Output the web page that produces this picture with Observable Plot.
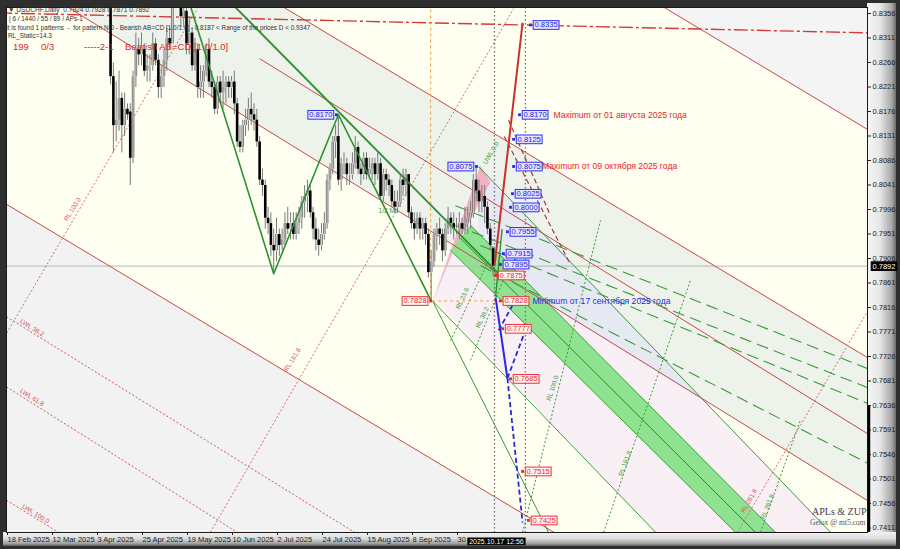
<!DOCTYPE html>
<html><head><meta charset="utf-8">
<script src="https://cdn.jsdelivr.net/npm/d3@7"></script>
<script src="https://cdn.jsdelivr.net/npm/@observablehq/plot@0.6"></script>
<style>
body{margin:0;background:#fff;}
#wrap{position:relative;width:900px;height:549px;overflow:hidden;background:#2e2e2e;font-family:"Liberation Sans",Arial,sans-serif;}
#raxis{position:absolute;left:867px;top:3px;width:29px;height:532px;background:linear-gradient(to right,#f7f7f7 0%,#e6e6e6 45%,#a8a8a8 85%,#6a6a6a 100%);}
#baxis{position:absolute;left:3px;top:532px;width:893px;height:14px;background:linear-gradient(to bottom,#f2f2f2 0%,#dedede 45%,#9a9a9a 85%,#5a5a5a 100%);}
#chart{position:absolute;left:0;top:0;}
.h{position:absolute;white-space:nowrap;color:#333;font-size:6.4px;line-height:8px;}
.r{color:#e0282a;font-size:9.5px;line-height:11px;}
.wm{position:absolute;white-space:nowrap;font-family:"Liberation Serif",serif;}
</style></head>
<body>
<div id="wrap">
  <div id="raxis"></div>
  <div id="baxis"></div>
  <div id="chart"></div>
  <div class="h" style="left:8px;top:6px;font-size:6.6px">▼ USDCHF,Daily&nbsp; 0.7924 0.7928 0.7871 0.7892</div>
  <div class="h" style="left:9px;top:15px;">| 6 / 1440 / 55 / 89 / APs-1</div>
  <div class="h" style="left:6px;top:24px;">It is found 1 patterns&nbsp; -&nbsp; for pattern N 0 - Bearish AB=CD [1.0/1.0] - 0.8187 &lt; Range of the prices D &lt; 0.9347</div>
  <div class="h" style="left:8px;top:32px;">RL_Static=14.3</div>
  <div class="h r" style="left:13px;top:41px;">199</div>
  <div class="h r" style="left:41px;top:41px;">0/3</div>
  <div class="h r" style="left:84px;top:41px;color:#b02a2a;">-----2-1</div>
  <div class="h r" style="left:125px;top:41px;">Bearish AB=CD [1.0/1.0]</div>
  <div class="wm" style="left:812px;top:506px;font-size:10px;color:#3c3c58;">APLs &amp; ZUP</div>
  <div class="wm" style="left:810px;top:518px;font-size:7.5px;color:#555;">Gelox @ mt5.com</div>
</div>
<script>
// ---------- candles (trading-day index from 18 Feb 2025) ----------
const firstBar = 37;
const open = [
0.8600,0.8240,0.8150,0.8160,0.8200,0.8150,0.8180,0.8175,0.8090,0.8240,
0.8290,0.8280,0.8290,0.8250,0.8260,0.8260,0.8300,0.8270,0.8220,0.8240,
0.8270,0.8310,0.8300,0.8440,0.8400,0.8390,0.8350,0.8360,0.8300,0.8320,
0.8260,0.8290,0.8220,0.8230,0.8250,0.8290,0.8230,0.8220,0.8180,0.8230,
0.8210,0.8220,0.8230,0.8220,0.8230,0.8190,0.8120,0.8110,0.8150,0.8160,
0.8180,0.8170,0.8160,0.8120,0.8050,0.8040,0.7980,0.7970,0.7930,0.7920,
0.7950,0.7930,0.7940,0.7970,0.7960,0.7970,0.7950,0.7970,0.7980,0.8010,
0.8020,0.8030,0.7990,0.7960,0.7940,0.7930,0.7950,0.7970,0.8050,0.8070,
0.8120,0.8130,0.8050,0.8080,0.8080,0.8060,0.8060,0.8080,0.8110,0.8070,
0.8060,0.8090,0.8060,0.8070,0.8080,0.8060,0.8080,0.8020,0.8060,0.8050,
0.8040,0.8010,0.8000,0.8010,0.8050,0.8040,0.8060,0.7990,0.7970,0.7960,
0.7980,0.7960,0.7970,0.7950,0.7880,0.7900,0.7950,0.7960,0.7950,0.7920,
0.7960,0.7980,0.7970,0.7960,0.7960,0.7970,0.7960,0.7970,0.7980,0.7990,
0.8050,0.8030,0.8010,0.8020,0.8000,0.7960,0.7924];
const high = [
0.8615,0.8265,0.8230,0.8250,0.8210,0.8210,0.8190,0.8190,0.8250,0.8320,
0.8310,0.8320,0.8300,0.8280,0.8280,0.8320,0.8310,0.8280,0.8260,0.8290,
0.8330,0.8330,0.8476,0.8460,0.8440,0.8420,0.8400,0.8370,0.8350,0.8330,
0.8310,0.8300,0.8260,0.8260,0.8300,0.8310,0.8250,0.8230,0.8240,0.8240,
0.8250,0.8240,0.8240,0.8240,0.8250,0.8200,0.8150,0.8160,0.8180,0.8200,
0.8210,0.8190,0.8180,0.8130,0.8070,0.8050,0.8000,0.7990,0.7960,0.7980,
0.7960,0.7960,0.7990,0.8000,0.7990,0.7990,0.7990,0.8000,0.8020,0.8040,
0.8050,0.8040,0.8000,0.7980,0.7960,0.7970,0.7990,0.8060,0.8080,0.8130,
0.8150,0.8170,0.8090,0.8100,0.8090,0.8080,0.8100,0.8130,0.8120,0.8080,
0.8100,0.8100,0.8090,0.8090,0.8090,0.8100,0.8090,0.8070,0.8070,0.8060,
0.8050,0.8030,0.8030,0.8060,0.8070,0.8070,0.8060,0.8000,0.7990,0.7990,
0.7990,0.7980,0.7980,0.7960,0.7920,0.7960,0.7970,0.7980,0.7960,0.7970,
0.8000,0.7990,0.7990,0.7980,0.7990,0.7980,0.8000,0.8000,0.8010,0.8060,
0.8075,0.8050,0.8040,0.8040,0.8010,0.7970,0.7928];
const low = [
0.8225,0.8100,0.8120,0.8140,0.8100,0.8130,0.8160,0.8040,0.8080,0.8220,
0.8260,0.8260,0.8240,0.8230,0.8230,0.8250,0.8260,0.8200,0.8200,0.8220,
0.8250,0.8290,0.8300,0.8370,0.8370,0.8330,0.8330,0.8280,0.8280,0.8250,
0.8250,0.8200,0.8200,0.8200,0.8240,0.8220,0.8200,0.8170,0.8170,0.8190,
0.8180,0.8190,0.8200,0.8200,0.8170,0.8110,0.8100,0.8100,0.8130,0.8140,
0.8150,0.8140,0.8110,0.8040,0.8020,0.7960,0.7950,0.7910,0.7878,0.7900,
0.7910,0.7920,0.7930,0.7950,0.7940,0.7940,0.7940,0.7950,0.7960,0.7980,
0.7990,0.7980,0.7940,0.7920,0.7910,0.7920,0.7940,0.7960,0.8030,0.8060,
0.8090,0.8040,0.8030,0.8060,0.8040,0.8040,0.8050,0.8070,0.8060,0.8040,
0.8050,0.8050,0.8050,0.8050,0.8040,0.8050,0.8010,0.8010,0.8030,0.8020,
0.8000,0.7990,0.7990,0.8000,0.8020,0.8020,0.7980,0.7960,0.7940,0.7950,
0.7940,0.7940,0.7930,0.7870,0.7828,0.7890,0.7920,0.7930,0.7900,0.7910,
0.7950,0.7950,0.7940,0.7950,0.7940,0.7950,0.7950,0.7950,0.7960,0.7980,
0.8010,0.7990,0.7990,0.7970,0.7950,0.7920,0.7872];
const close = [
0.8240,0.8150,0.8160,0.8200,0.8150,0.8180,0.8170,0.8090,0.8240,0.8290,
0.8280,0.8290,0.8250,0.8260,0.8260,0.8300,0.8270,0.8220,0.8240,0.8270,
0.8310,0.8300,0.8440,0.8400,0.8390,0.8350,0.8360,0.8300,0.8320,0.8260,
0.8290,0.8220,0.8230,0.8250,0.8290,0.8230,0.8220,0.8180,0.8230,0.8210,
0.8220,0.8230,0.8220,0.8230,0.8190,0.8120,0.8110,0.8150,0.8160,0.8180,
0.8170,0.8160,0.8120,0.8050,0.8040,0.7980,0.7970,0.7930,0.7920,0.7950,
0.7930,0.7940,0.7970,0.7960,0.7970,0.7950,0.7970,0.7980,0.8010,0.8020,
0.8030,0.7990,0.7960,0.7940,0.7930,0.7950,0.7970,0.8050,0.8070,0.8120,
0.8130,0.8050,0.8080,0.8080,0.8060,0.8060,0.8080,0.8110,0.8070,0.8060,
0.8090,0.8060,0.8070,0.8080,0.8060,0.8080,0.8020,0.8060,0.8050,0.8040,
0.8010,0.8000,0.8010,0.8050,0.8040,0.8060,0.7990,0.7970,0.7960,0.7980,
0.7960,0.7970,0.7950,0.7880,0.7900,0.7950,0.7960,0.7950,0.7920,0.7960,
0.7980,0.7970,0.7960,0.7960,0.7970,0.7960,0.7970,0.7980,0.7990,0.8050,
0.8030,0.8010,0.8020,0.8000,0.7960,0.7930,0.7892];

// ---------- axes ----------
const xTickIdx = [0,16,32,48,64,80,96,112,128,144,160];
const xTickLabels = ["18 Feb 2025","12 Mar 2025","3 Apr 2025","25 Apr 2025","19 May 2025","10 Jun 2025","2 Jul 2025","24 Jul 2025","15 Aug 2025","8 Sep 2025","30"];
const yTicks = [0.8356,0.8311,0.8266,0.8221,0.8176,0.8131,0.8086,0.8041,0.7996,0.7951,0.7906,0.7861,0.7816,0.7771,0.7726,0.7681,0.7636,0.7591,0.7546,0.7501,0.7456,0.7411];
const lastPrice = 0.7892;
const lastBar = 174.2;
const lastTime = "2025.10.17 12:56";

// ---------- drawn objects, [bar index, price] ----------
const zoneAboveTop = [[200,0.8472],[310,0.8131],[310,0.8500],[200,0.8500]];
const zoneChannel = [[-5,0.8689],[310,0.7712],[310,0.7449],[-5,0.8453]];
const zoneLowLeft = [[-5,0.8021],[310,0.7046],[310,0.7000],[-5,0.7000]];
const zonePink = [[151.5,0.7834],[167.8,0.8077],[293,0.7403],[230.8,0.7403]];
const zoneBlue = [[167.8,0.8077],[250.3,0.7636],[167.8,0.7902]];
const greenBand = [[165,0.7967],[273.4,0.7403],[259.2,0.7403],[157.9,0.7921]];
const greenBandMid = [[161.4,0.7943,266.3,0.7403]];
const pinkPattern = [[151.8,0.7829],[168.5,0.8077],[172.1,0.8046],[158.6,0.7917]];

const redSolid = [[200,0.8472,310,0.8131],[90,0.8394,310,0.7712],[90,0.8273,310,0.7572],[-5,0.8453,310,0.7449],[-5,0.8021,310,0.7046]];
const redDashTop = [[-3,0.8357,310,0.8320]];
const redDottedLow = [[0,0.7799,130,0.7383],[0,0.7670,90,0.7377],[0,0.7462,25,0.7382]];
const redDottedSteep = [[-2.1,0.7750,67.9,0.8365],[72.5,0.7403,180.3,0.8365],[259.9,0.7403,310,0.7843]];
const greenDottedSteep = [[183.5,0.7403,211.2,0.7976],[212.3,0.7403,243.2,0.7866],[268.1,0.7403,282.3,0.7609],[157.9,0.7755,171.4,0.7902],[165,0.7719,179.2,0.7899]];
const greenThin = [[151.5,0.7828,192.7,0.7403],[151.5,0.7828,230.8,0.7403],[167.8,0.8075,293,0.7403]];
const greenDashed = [[159.6,0.8003,306.1,0.7704],[159.6,0.7967,306.1,0.7669],[168.5,0.7930,306.1,0.7640],[168.5,0.7893,306.1,0.7530]];
const greenZig = [[59,0.8476],[95,0.7878],[118,0.8170],[151,0.7828]];
const greenThick = [[80.7,0.8371,174.6,0.7880]];
const greenUp = [[173.9,0.7836,176.2,0.7960]];
const redThick = [[173.5,0.7892,183.5,0.8339]];
const brownDashed = [[178.5,0.8160,193.4,0.7985],[177,0.8130,200,0.7900]];
const blueSolid = [[173.9,0.7834,178.1,0.7686]];
const blueDashed = [[178.1,0.7686,183.5,0.7421],[175,0.7774,179.9,0.7820],[178.1,0.7686,184.5,0.7774]];
const grayVert = [173.5,184.5];
const orangeVert = [[150.8,0.7828,0.8370]];
const orangeHoriz = [[151.5,174,0.7828]];

const blueLabels = [[186.3,0.8335],[182.4,0.8170],[180.3,0.8125],[180.3,0.8075],[179.9,0.8025],[179.2,0.8000],[178.1,0.7955],[176.7,0.7915],[175.6,0.7895]];
const redLabels = [[173.9,0.7875],[175.6,0.7828],[176.4,0.7777],[179.2,0.7685],[183.5,0.7515],[185.6,0.7425]];
const blueLabelsLeft = [[167.1,0.8075],[117.3,0.8170]];
const redLabelsLeft = [[150.8,0.7828]];
const notes = [
  {x:194.5, y:0.8170, t:"Maximum от 01 августа 2025 года", c:"#e8262a"},
  {x:190.4, y:0.8075, t:"Maximum от 09 октября 2025 года", c:"#e8262a"},
  {x:187.0, y:0.7828, t:"Minimum от 17 сентября 2025 года", c:"#2a2ae8"}
];
const redTags = [
  {x:5, y:0.7792, t:"LWL 38.2", r:32},{x:5, y:0.7664, t:"LWL 61.8", r:32},{x:5.7, y:0.7452, t:"LWL 100.0", r:32},
  {x:21, y:0.7976, t:"RL 100.0", r:-58},{x:99.2, y:0.7700, t:"RL 161.8", r:-58},{x:261.7, y:0.7440, t:"RL 261.8", r:-60}
];
const greenTags = [
  {x:192.7, y:0.7645, t:"RL 100.0", r:-72},{x:218.3, y:0.7507, t:"RL 161.8", r:-70},{x:268.8, y:0.7428, t:"RL 261.8", r:-68},
  {x:160.4, y:0.7814, t:"RL 23.6", r:-65},{x:167.5, y:0.7779, t:"RL 38.2", r:-65},{x:170, y:0.8080, t:"UWL 0.0", r:-60},
  {x:132.3, y:0.7994, t:"1/2 ML", r:0}
];

const bars = close.map((c,k)=>({i:firstBar+k, o:open[k], h:high[k], l:low[k], c}));
const P = d=>d[0], Q = d=>d[1];
const seg = (data, o) => Plot.link(data, {x1:d=>d[0], y1:d=>d[1], x2:d=>d[2], y2:d=>d[3], clip:true, ...o});
const poly = (data, fill, o={}) => Plot.line(data, {x:P, y:Q, fill, stroke:"none", clip:true, ...o});

const plot = Plot.plot({
  width:900, height:549,
  marginLeft:6, marginRight:33, marginTop:7, marginBottom:17,
  x:{domain:[0,306.13], axis:null},
  y:{domain:[0.74027,0.83670], axis:null},
  style:{background:"transparent", fontFamily:"Liberation Sans, Arial, sans-serif", fontSize:"7.5px"},
  marks:[
    Plot.frame({fill:"#fefef1"}),
    poly(zoneAboveTop, "#f4f4f4"),
    poly(zoneChannel, "#edf2ea"),
    poly(zoneLowLeft, "#f2f2f2"),
    poly(zonePink, "#f9f0f5"),
    poly(zoneBlue, "#e6e9f2"),
    poly(pinkPattern, "#f3b1c2"),
    poly(greenBand, "#8fe28f", {stroke:"#3a9e3a", strokeWidth:1}),
    seg(greenBandMid, {stroke:"#2c8a2c", strokeWidth:1}),
    Plot.ruleY([lastPrice], {stroke:"#b8b8b8", strokeWidth:1}),
    seg(redSolid, {stroke:"#c8484c", strokeWidth:1}),
    seg(redDashTop, {stroke:"#d23a3a", strokeWidth:1.4, strokeDasharray:"14,3,3,3"}),
    seg(redDottedLow, {stroke:"#d05a5a", strokeWidth:1, strokeDasharray:"2,2"}),
    seg(redDottedSteep, {stroke:"#d86a6a", strokeWidth:1, strokeDasharray:"2,2"}),
    seg(greenDottedSteep, {stroke:"#3a9a3a", strokeWidth:1, strokeDasharray:"2,2"}),
    seg(greenThin, {stroke:"#3f9a3f", strokeWidth:1}),
    seg(greenDashed, {stroke:"#3a9a3a", strokeWidth:1.1, strokeDasharray:"12,6"}),
    Plot.ruleX(grayVert, {stroke:"#707070", strokeWidth:1.3, strokeDasharray:"1.5,2.5"}),
    Plot.ruleX(orangeVert, {x:d=>d[0], y1:d=>d[1], y2:d=>d[2], stroke:"#f2a03a", strokeWidth:1, strokeDasharray:"3,3", clip:true}),
    Plot.ruleY(orangeHoriz, {x1:d=>d[0], x2:d=>d[1], y:d=>d[2], stroke:"#f2a03a", strokeWidth:1, strokeDasharray:"3,3"}),
    // candles
    Plot.ruleX(bars, {x:"i", y1:"l", y2:"h", stroke:"#7a7a7a", strokeWidth:1, clip:true}),
    Plot.ruleX(bars, {filter:d=>d.c>=d.o, x:"i", y1:"o", y2:"c", stroke:"#6e6e6e", strokeWidth:2.6, clip:true}),
    Plot.ruleX(bars, {filter:d=>d.c>=d.o, x:"i", y1:"o", y2:"c", stroke:"#d6d6d6", strokeWidth:0.9, insetTop:0.8, insetBottom:0.8, clip:true}),
    Plot.ruleX(bars, {filter:d=>d.c<d.o, x:"i", y1:"o", y2:"c", stroke:"#000", strokeWidth:2.6, clip:true}),
    // pattern lines
    Plot.line(greenZig, {x:P, y:Q, stroke:"#2f902f", strokeWidth:1.6, clip:true}),
    seg(greenThick, {stroke:"#2f902f", strokeWidth:1.8}),
    seg(greenUp, {stroke:"#2f902f", strokeWidth:1.4}),
    seg(brownDashed, {stroke:"#a83a3a", strokeWidth:1.2, strokeDasharray:"5,3"}),
    seg(redThick, {stroke:"#c8322e", strokeWidth:2}),
    seg(blueSolid, {stroke:"#2a2ad8", strokeWidth:2}),
    seg(blueDashed, {stroke:"#2a2ad8", strokeWidth:1.8, strokeDasharray:"5,3"}),
    // tags
    Plot.text(redTags, {x:"x", y:"y", text:"t", rotate:d=>d.r, fill:"#d45a5a", fontSize:6.5, textAnchor:"start", clip:true}),
    Plot.text(greenTags, {x:"x", y:"y", text:"t", rotate:d=>d.r, fill:"#3a9a3a", fontSize:6.5, textAnchor:"start", clip:true}),
    // price markers
    Plot.dot(blueLabels.concat(blueLabelsLeft), {x:P, y:Q, symbol:"square", r:1.6, fill:"#2a2ae8"}),
    Plot.dot(redLabels.concat(redLabelsLeft), {x:P, y:Q, symbol:"square", r:1.6, fill:"#e8262a"}),
    Plot.text(blueLabels, {x:P, y:Q, text:d=>d[1].toFixed(4), dx:4, textAnchor:"start", fill:"#2020e0", fontSize:7.6, ariaDescription:"boxblue"}),
    Plot.text(blueLabelsLeft, {x:P, y:Q, text:d=>d[1].toFixed(4), dx:-4, textAnchor:"end", fill:"#2020e0", fontSize:7.6, ariaDescription:"boxblue"}),
    Plot.text(redLabels, {x:P, y:Q, text:d=>d[1].toFixed(4), dx:4, textAnchor:"start", fill:"#e8262a", fontSize:7.6, ariaDescription:"boxred"}),
    Plot.text(redLabelsLeft, {x:P, y:Q, text:d=>d[1].toFixed(4), dx:-4, textAnchor:"end", fill:"#e8262a", fontSize:7.6, ariaDescription:"boxred"}),
    Plot.text(notes, {x:"x", y:"y", text:"t", fill:"c", fontSize:8.6, textAnchor:"start"}),
    Plot.frame({stroke:"#1a1a1a", strokeWidth:1}),
    // axes
    Plot.axisY({anchor:"right", ticks:yTicks, tickFormat:d=>d.toFixed(4), tickSize:3, tickPadding:2, fill:"#222", stroke:"#222"}),
    Plot.axisX({anchor:"bottom", ticks:xTickIdx, tickFormat:d=>xTickLabels[xTickIdx.indexOf(d)], tickSize:3, tickPadding:1, textAnchor:"start", dx:1, fill:"#222", stroke:"#222"}),
    Plot.ruleX([306.13], {y1:0.7636, y2:0.7403, stroke:"#000", strokeWidth:2.5, dx:1.5}),
    Plot.text([lastPrice], {x:306.13, y:d=>d, text:d=>d.toFixed(4), dx:5, textAnchor:"start", fill:"#fff", fontSize:7.5, ariaDescription:"boxblack"}),
    Plot.text([lastBar], {x:d=>d, y:0.74027, text:[lastTime], dy:9, fill:"#fff", fontSize:7, ariaDescription:"boxblack"})
  ]
});
document.getElementById("chart").appendChild(plot);

function boxify(label, fill, stroke){
  plot.querySelectorAll(`g[aria-description="${label}"] text`).forEach(t=>{
    const b = t.getBBox();
    const r = document.createElementNS("http://www.w3.org/2000/svg","rect");
    r.setAttribute("x", b.x-1.3); r.setAttribute("y", b.y+0.3);
    r.setAttribute("width", b.width+2.6); r.setAttribute("height", b.height-0.3);
    r.setAttribute("fill", fill); r.setAttribute("stroke", stroke); r.setAttribute("stroke-width", 1);
    const tr = t.getAttribute("transform"); if (tr) r.setAttribute("transform", tr);
    t.parentNode.insertBefore(r, t);
  });
}
boxify("boxblue", "#e4e4ff", "#3030f0");
boxify("boxred", "#fff4f4", "#f03030");
boxify("boxblack", "#000", "#000");
</script>
</body></html>
